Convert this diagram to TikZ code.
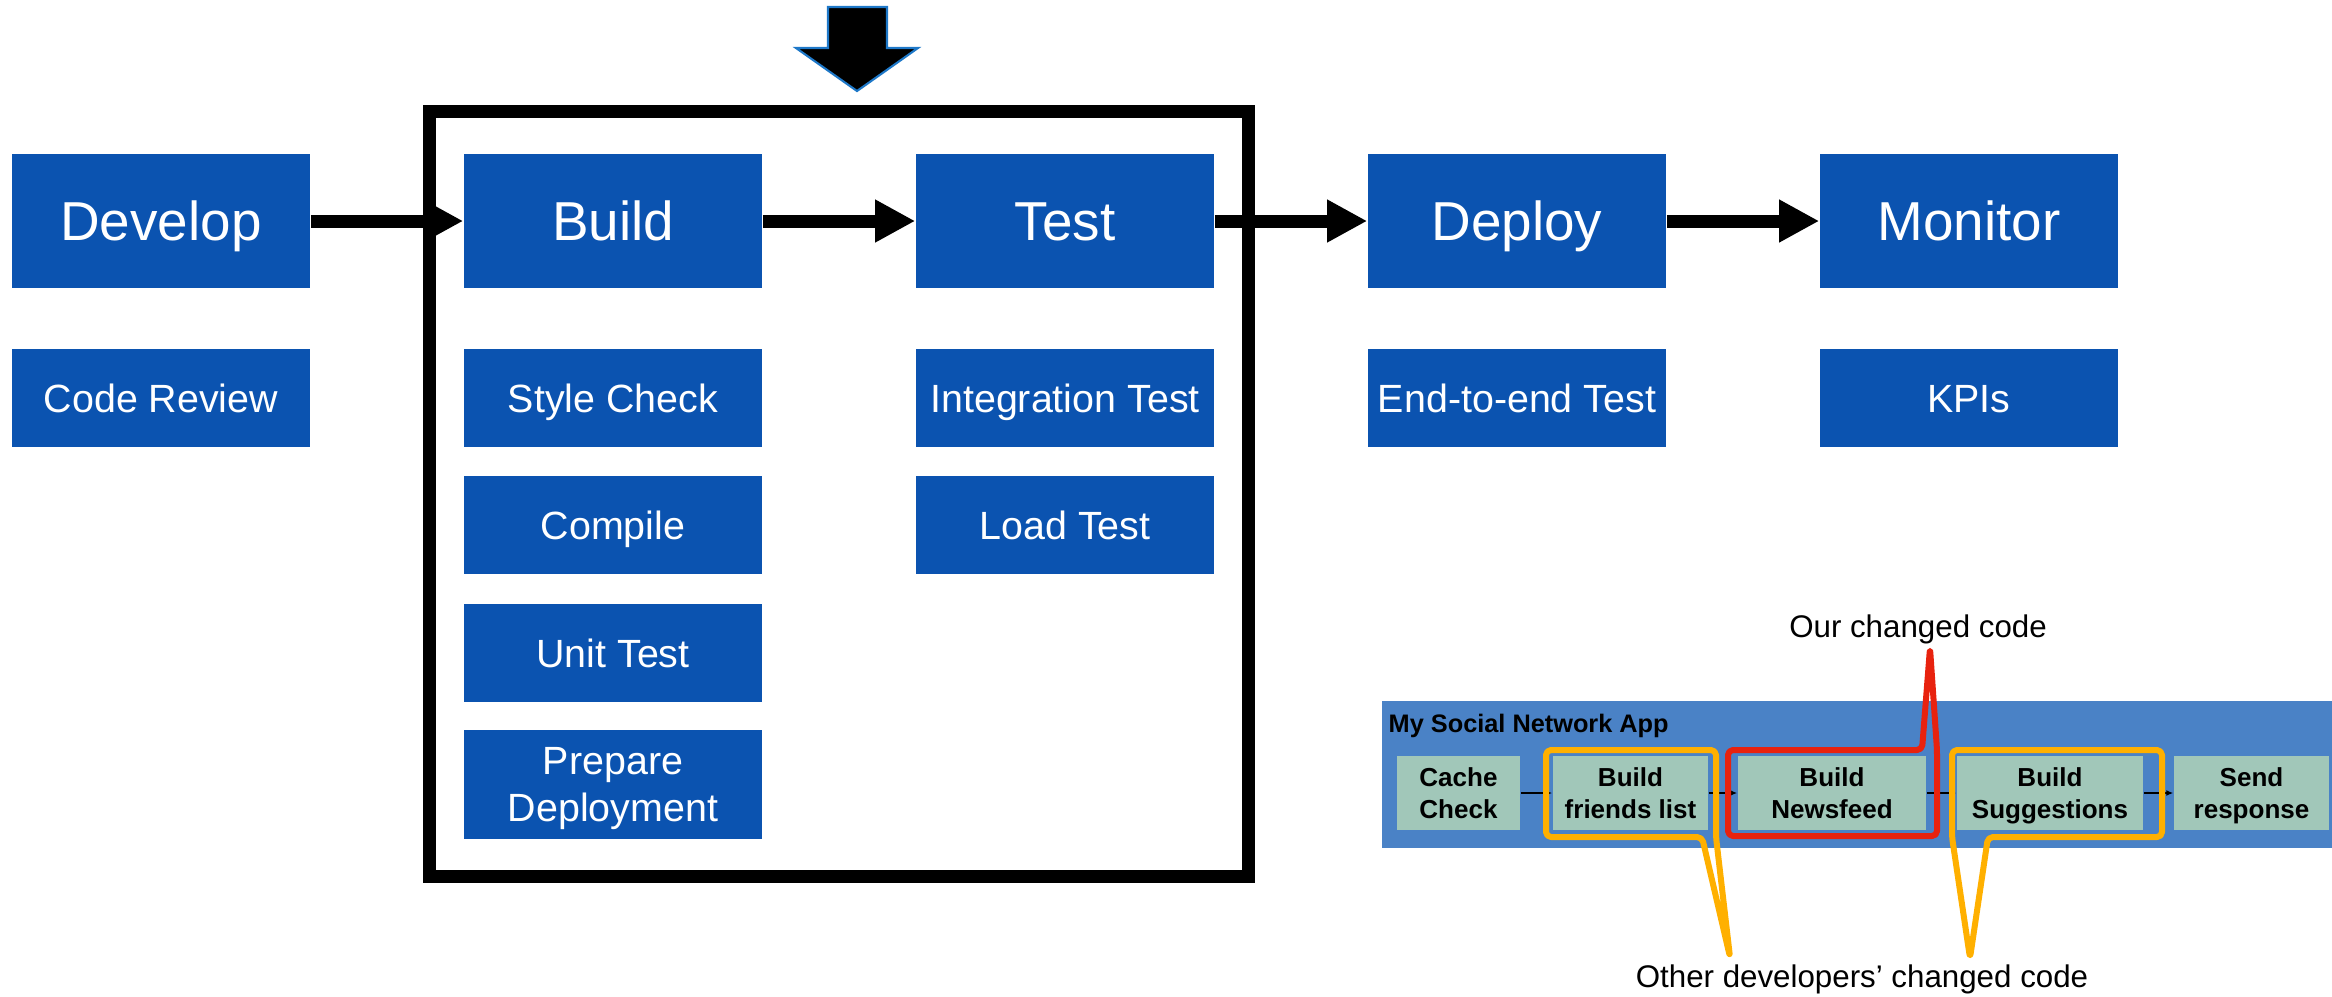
\documentclass[tikz,border=0pt]{standalone}
\usepackage{fontspec}
\setmainfont{Liberation Sans}
\usetikzlibrary{arrows.meta}
\definecolor{stageblue}{RGB}{11,83,176}
\definecolor{appblue}{RGB}{74,130,198}
\definecolor{stepgreen}{RGB}{161,199,185}
\definecolor{frameorange}{RGB}{255,176,0}
\definecolor{framered}{RGB}{232,34,14}
\definecolor{arrowedge}{RGB}{30,120,200}
\tikzset{
	stage/.style={fill=stageblue,text=white,minimum width=2.98cm,minimum height=1.34cm,inner sep=0pt,text height=11.2pt,text depth=0pt,font=\fontsize{15.6pt}{18pt}\selectfont},
	taskbox/.style={fill=stageblue,text=white,minimum width=2.98cm,minimum height=0.98cm,inner sep=0pt,align=center,font=\fontsize{11.2pt}{13.4pt}\selectfont},
	task/.style={taskbox,text height=8pt,text depth=0pt},
	flow/.style={-{Triangle[length=0.4cm,width=0.4cm]},line width=0.13cm},
	appstep/.style={fill=stepgreen,minimum height=0.74cm,inner sep=0pt,align=center,text depth=0pt,font=\fontsize{7.4pt}{9.1pt}\selectfont\bfseries},
	appflow/.style={-{Latex[length=0.07cm,width=0.06cm]},line width=0.5pt},
	callout/.style={line width=0.06cm,rounded corners=0.05cm,line join=round},
	note/.style={anchor=base,font=\fontsize{8.9pt}{10pt}\selectfont}
}
\begin{document}
\begin{tikzpicture}[x=0.01cm,y=-0.01cm]
			\useasboundingbox (0,0) rectangle (2332,996);
			% pipeline stages
			\node[stage] (dev) at (161,221) {Develop};
			\node[stage] (build) at (613,221) {Build};
			\node[stage] (test) at (1065,221) {Test};
			\node[stage] (deploy) at (1517,221) {Deploy};
			\node[stage] (mon) at (1969,221) {Monitor};
			% tasks of each stage
			\node[task] (review) at (161,398) {Code Review};
			\node[task] (style) at (613,398) {Style Check};
			\node[task] (compile) at (613,525) {Compile};
			\node[task] (unit) at (613,653) {Unit Test};
			\node[taskbox,text depth=0pt,minimum height=1.09cm] (prep) at (613,784.5) {Prepare\\Deployment};
			\node[task] (integ) at (1065,398) {Integration Test};
			\node[task] (load) at (1065,525) {Load Test};
			\node[task] (e2e) at (1517,398) {End-to-end Test};
			\node[task] (kpi) at (1969,398) {KPIs};
			% frame round build and test
			\draw[line width=0.13cm] (429.5,111.5) rectangle (1248,876.5);
			\draw[fill=black,draw=arrowedge,line width=0.6pt] (828,7) -- (887,7) -- (887,48) -- (918,48) -- (857,91) -- (796,48) -- (828,48) -- cycle;
			\draw[flow] (dev) -- (build);
			\draw[flow] (build) -- (test);
			\draw[flow] (test) -- (deploy);
			\draw[flow] (deploy) -- (mon);
			% the app
			\fill[appblue] (1382,701) rectangle (2332,848);
			\node[anchor=base west,inner sep=0pt,font=\fontsize{7.2pt}{8pt}\selectfont\bfseries] (app) at (1388,732) {My Social Network App};
			\node[appstep,minimum width=1.23cm] (cache) at (1458.5,793) {Cache\\Check};
			\node[appstep,minimum width=1.55cm] (friends) at (1630.5,793) {Build\\friends list};
			\node[appstep,minimum width=1.88cm] (feed) at (1832,793) {Build\\Newsfeed};
			\node[appstep,minimum width=1.86cm] (sugg) at (2050,793) {Build\\Suggestions};
			\node[appstep,minimum width=1.55cm] (send) at (2251.5,793) {Send\\response};
			\draw[appflow] (cache) -- (friends);
			\draw[appflow] (friends) -- (feed);
			\draw[appflow] (feed) -- (sugg);
			\draw[appflow] (sugg) -- (send);
			% changed code
			\node[note] (ours) at (1918,637) {Our changed code};
			\node[note] (others) at (1862,987) {Other developers’ changed code};
			\coordinate (redtip) at (1930,648);
			\coordinate (lefttip) at (1730,957);
			\coordinate (righttip) at (1970,958);
			\draw[callout,draw=frameorange] (1702,837) -- (1546,837) -- (1546,750) -- (1716,750) -- (1716,837) -- (lefttip) -- cycle;
			\draw[callout,draw=framered] (1922,750) -- (1728,750) -- (1728,836) -- (1937,836) -- (1937,750) -- (redtip) -- cycle;
			\draw[callout,draw=frameorange] (1988,837) -- (2162,837) -- (2162,750) -- (1952,750) -- (1952,837) -- (righttip) -- cycle;
		\end{tikzpicture}
\end{document}
